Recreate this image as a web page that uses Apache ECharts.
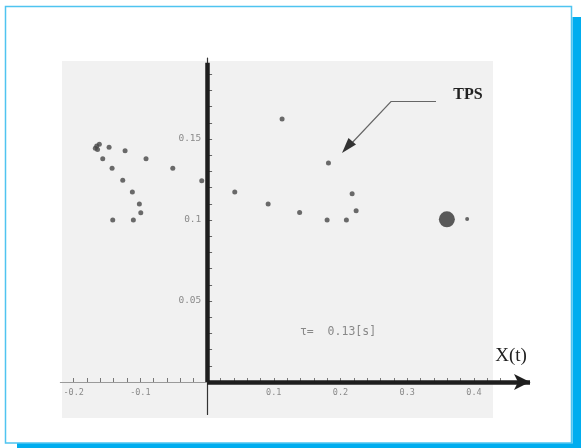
<!DOCTYPE html>
<html>
<head>
<meta charset="utf-8">
<script src="https://cdn.jsdelivr.net/npm/echarts@6/dist/echarts.min.js"></script>
<style>
html,body{margin:0;padding:0;background:#fff;}
#c{width:581px;height:448px;}
</style>
</head>
<body>
<div id="c"></div>
<script>
// Small trajectory points (x, y)
const pointsX = [-0.1654,-0.1615,-0.1675,-0.1642,-0.1469,-0.1229,-0.1564,-0.0915,-0.1424,-0.0514,-0.1264,-0.1120,-0.1015,-0.0994,-0.1414,-0.1105,-0.0080,0.1124,0.0415,0.0915,0.1387,0.1819,0.1799,0.2088,0.2174,0.2234];
const pointsY = [0.1457,0.1467,0.1443,0.1435,0.1449,0.1428,0.1378,0.1378,0.1319,0.1319,0.1245,0.1173,0.1099,0.1045,0.1000,0.1000,0.1243,0.1623,0.1173,0.1099,0.1046,0.1352,0.1000,0.1000,0.1162,0.1057];
// Current position (big dot) and small dot beside it
const bigX = [0.3594];
const bigY = [0.1004];
const tinyX = [0.3898];
const tinyY = [0.1006];
// Tick labels
const xTickLabels = [-0.2,-0.1,0.1,0.2,0.3,0.4];
const yTickLabels = [0.05,0.1,0.15];
const xMinorTicks = [-0.2,-0.18,-0.16,-0.14,-0.12,-0.1,-0.08,-0.06,-0.04,-0.02,0.02,0.04,0.06,0.08,0.1,0.12,0.14,0.16,0.18,0.2,0.22,0.24,0.26,0.28,0.3,0.32,0.34,0.36,0.38,0.4,0.42,0.44];
const yMinorTicks = [0.01,0.02,0.03,0.04,0.05,0.06,0.07,0.08,0.09,0.1,0.11,0.12,0.13,0.14,0.15,0.16,0.17,0.18,0.19];
const annotationText = 'TPS';
const xAxisName = 'X(t)';
const timeText = 'τ=  0.13[s]';

const chart = echarts.init(document.getElementById('c'), null, {renderer:'canvas'});

const fmt = v => (Math.round(v*100)/100).toString();

chart.setOption({
  animation:false,
  backgroundColor:'#fff',
  grid:{left:60.3, right:51, top:58, bottom:33.6},
  xAxis:{
    type:'value', min:-0.22, max:0.484,
    splitLine:{show:false},
    axisLine:{onZero:true, lineStyle:{color:'#9a9a9a', width:1}},
    axisTick:{show:true, inside:true, length:4, customValues:xMinorTicks, lineStyle:{color:'#777'}},
    axisLabel:{customValues:xTickLabels, formatter:fmt, color:'#8a8a8a', fontSize:8.5, fontFamily:'DejaVu Sans Mono', margin:-26}
  },
  yAxis:{
    type:'value', min:-0.02, max:0.2,
    splitLine:{show:false},
    axisLine:{onZero:true, lineStyle:{color:'#333', width:1.2}},
    axisTick:{show:true, inside:true, length:5, customValues:yMinorTicks, lineStyle:{color:'#666'}},
    axisLabel:{customValues:yTickLabels, formatter:fmt, color:'#8a8a8a', fontSize:9.5, fontFamily:'DejaVu Sans Mono', margin:-141}
  },
  graphic:[
    {type:'rect', z:-10, shape:{x:62, y:61, width:431, height:357}, style:{fill:'#f1f1f1'}},
    {type:'rect', shape:{x:5.5, y:6.5, width:566, height:436.5}, style:{fill:'none', stroke:'#4fc4f0', lineWidth:1.5}},
    {type:'rect', shape:{x:572.5, y:17, width:9, height:431}, style:{fill:'#00adef'}},
    {type:'rect', shape:{x:17, y:443.5, width:564, height:5}, style:{fill:'#00adef'}},
    {type:'text', style:{text:annotationText, x:468, y:95, align:'center', verticalAlign:'middle', font:'bold 16px "Liberation Serif", serif', fill:'#222'}},
    {type:'polyline', shape:{points:[[436,101.5],[391,101.5],[350,145]]}, style:{stroke:'#666', lineWidth:1.2, fill:'none'}},
    {type:'polygon', shape:{points:[[342,153],[356,144.5],[348.5,138]]}, style:{fill:'#333'}},
    {type:'text', style:{text:xAxisName, x:511, y:356, align:'center', verticalAlign:'middle', font:'19px "Liberation Serif", serif', fill:'#222'}},
    {type:'text', style:{text:timeText, x:338, y:332, align:'center', verticalAlign:'middle', font:'11.5px "DejaVu Sans Mono", monospace', fill:'#888'}}
  ],
  series:[
    {
      type:'scatter', symbol:'circle', symbolSize:5,
      itemStyle:{color:'#474747'},
      data: pointsX.map((x,i)=>[x, pointsY[i]]),
      z:5,
      markLine:{
        silent:true, animation:false,
        label:{show:false},
        data:[
          [{coord:[0,0], symbol:'none'},{coord:[0.484,0], symbol:'arrow', symbolSize:[12,16]}],
          [{coord:[0,0], symbol:'none'},{coord:[0,0.197], symbol:'none'}]
        ],
        lineStyle:{color:'#1e1e1e', width:4.5, type:'solid'}
      }
    },
    {
      type:'scatter', symbol:'circle', symbolSize:16,
      itemStyle:{color:'#333'},
      data: bigX.map((x,i)=>[x, bigY[i]])
    },
    {
      type:'scatter', symbol:'circle', symbolSize:4,
      itemStyle:{color:'#444'},
      data: tinyX.map((x,i)=>[x, tinyY[i]])
    }
  ]
});
</script>
</body>
</html>
